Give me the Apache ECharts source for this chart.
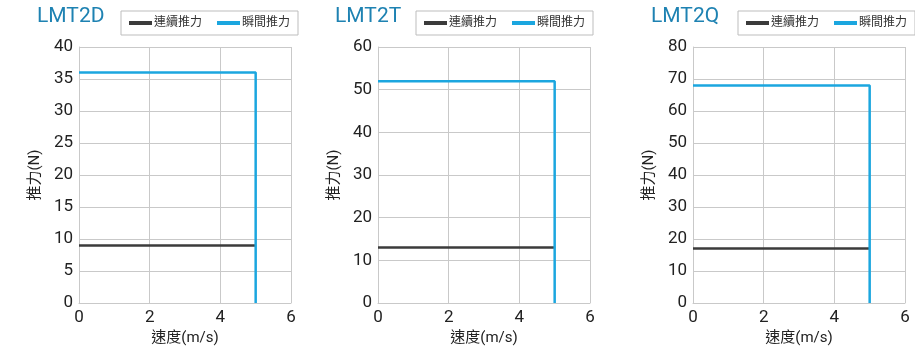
<!DOCTYPE html>
<html>
<head>
<meta charset="utf-8">
<script src="https://cdn.jsdelivr.net/npm/echarts@6/dist/echarts.min.js"></script>
<style>
  html, body { margin: 0; padding: 0; background: #fff; }
  #chart { width: 915px; height: 347px; }
</style>
</head>
<body>
<div id="chart"></div>
<script>
// Thrust vs. speed for three linear motor models
const models = ['LMT2D', 'LMT2T', 'LMT2Q'];
const continuousForce = [9, 13, 17];   // 連續推力 (N)
const peakForce = [36, 52, 68];        // 瞬間推力 (N)
const maxSpeed = [5, 5, 5];            // m/s
const yMax = [40, 60, 80];
const yStep = [5, 10, 10];
const xMax = 6;
const xStep = 2;
const seriesNames = ['連續推力', '瞬間推力'];

// panel placement
const panelLeft = [79, 378, 693];
const panelWidth = 212;
const titleLeft = [37, 335, 651];
const legendLeft = [121, 416, 738];

const FONT = 'Roboto, "Noto Sans CJK TC", sans-serif';
const C_DARK = '#3b3b3b';
const C_BLUE = '#1ba6df';
const C_GRID = '#c9c9c9';

const option = {
  animation: false,
  textStyle: { fontFamily: FONT },
  title: models.map((m, i) => ({
    text: m,
    left: titleLeft[i],
    top: 6,
    padding: 0,
    textStyle: { fontFamily: FONT, fontSize: 21, fontWeight: 'normal', color: '#1e82b2' }
  })),
  legend: models.map((m, i) => ({
    left: legendLeft[i],
    top: 11,
    width: 200,
    orient: 'horizontal',
    padding: [6, 8, 6, 8],
    borderColor: '#bdbdbd',
    borderWidth: 1,
    itemWidth: 23,
    itemHeight: 4,
    itemGap: 15,
    icon: 'rect',
    textStyle: { fontSize: 12, color: '#333', padding: [0, 0, 0, -3] },
    data: seriesNames.map(n => ({ name: n + '\u200b'.repeat(i) }))
  })),
  grid: models.map((m, i) => ({
    left: panelLeft[i],
    width: panelWidth,
    top: 47,
    bottom: 44,
    containLabel: false,
    outerBoundsMode: 'none'
  })),
  xAxis: models.map((m, i) => ({
    type: 'value',
    gridIndex: i,
    min: 0,
    max: xMax,
    interval: xStep,
    name: '速度(m/s)',
    nameLocation: 'middle',
    nameGap: 25,
    nameTextStyle: { fontSize: 15, color: '#222' },
    axisLine: { show: true, lineStyle: { color: C_GRID, width: 1 } },
    axisTick: { show: false },
    axisLabel: { fontSize: 17, color: '#222', margin: 6 },
    splitLine: { show: true, lineStyle: { color: C_GRID, width: 1 } }
  })),
  yAxis: models.map((m, i) => ({
    type: 'value',
    gridIndex: i,
    min: 0,
    max: yMax[i],
    interval: yStep[i],
    name: '推力(N)',
    nameLocation: 'middle',
    nameRotate: 90,
    nameGap: 36,
    nameTextStyle: { fontSize: 15, color: '#222' },
    axisLine: { show: true, lineStyle: { color: C_GRID, width: 1 } },
    axisTick: { show: false },
    axisLabel: { fontSize: 17, color: '#222', margin: 6 },
    splitLine: { show: true, lineStyle: { color: C_GRID, width: 1 } }
  })),
  series: []
};

models.forEach((m, i) => {
  const tag = '\u200b'.repeat(i);
  option.series.push({
    name: seriesNames[0] + tag,
    type: 'line',
    xAxisIndex: i,
    yAxisIndex: i,
    symbol: 'none',
    color: C_DARK,
    lineStyle: { color: C_DARK, width: 2.5 },
    data: [[0, continuousForce[i]], [maxSpeed[i], continuousForce[i]]]
  });
  option.series.push({
    name: seriesNames[1] + tag,
    type: 'line',
    xAxisIndex: i,
    yAxisIndex: i,
    symbol: 'none',
    color: C_BLUE,
    lineStyle: { color: C_BLUE, width: 2.5 },
    data: [[0, peakForce[i]], [maxSpeed[i], peakForce[i]], [maxSpeed[i], 0]]
  });
});

const chart = echarts.init(document.getElementById('chart'), null, { renderer: 'canvas' });
chart.setOption(option);
</script>
</body>
</html>
